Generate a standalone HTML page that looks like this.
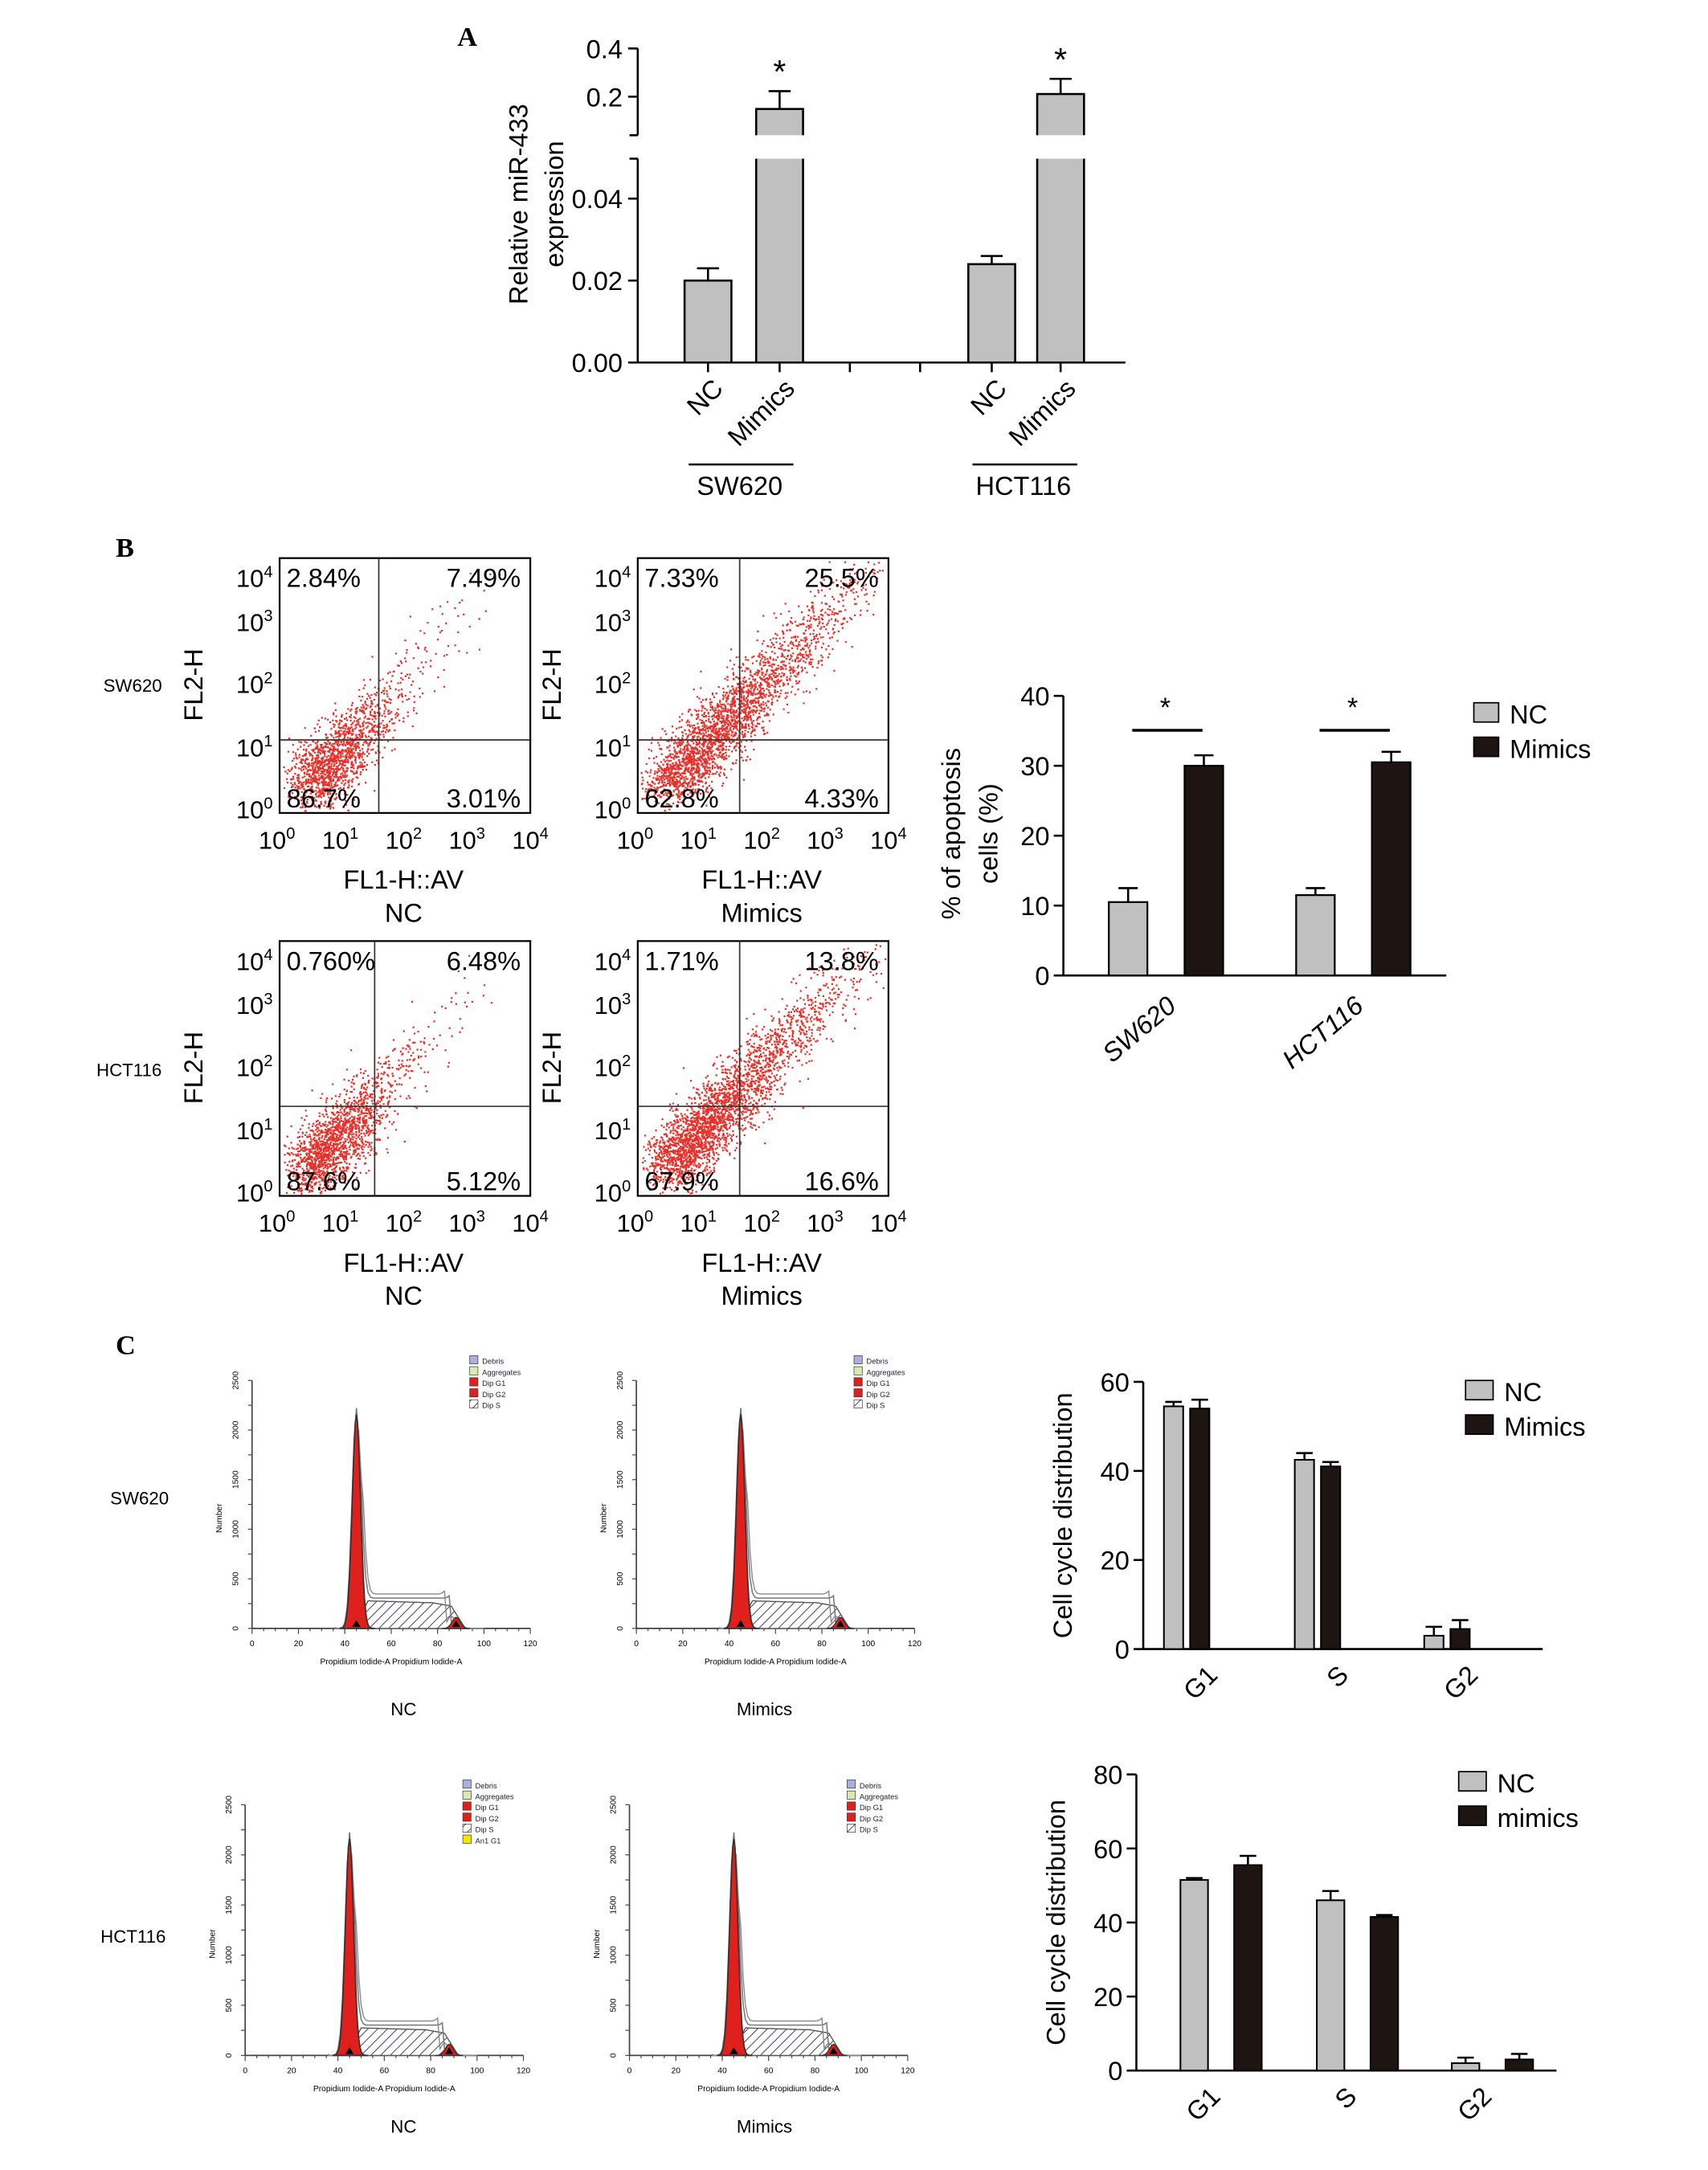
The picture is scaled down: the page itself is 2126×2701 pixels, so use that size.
<!DOCTYPE html>
<html><head><meta charset="utf-8"><style>
html,body{margin:0;padding:0;background:#fff}
svg{display:block;font-family:"Liberation Sans",Arial,sans-serif}
</style></head><body>
<svg id="fig" xmlns="http://www.w3.org/2000/svg" width="2126" height="2701" viewBox="0 0 1240 1575">
<defs>
<pattern id="hatch" width="5" height="5" patternUnits="userSpaceOnUse" patternTransform="rotate(45)"><rect width="5" height="5" fill="#fff"/><line x1="0" y1="0" x2="0" y2="5" stroke="#446" stroke-width="1.2"/></pattern>
</defs>
<g id="root"></g>
</svg>
<script>
// ---------- data ----------
const aGroups=["SW620","HCT116"];
const aCats=["NC","Mimics"];
const aVals=[[0.020,0.149],[0.024,0.211]];
const aErrs=[[0.023,0.223],[0.026,0.274]];
const aTicksLow=["0.00","0.02","0.04"];
const aTicksHigh=["0.2","0.4"];

const bQuad=[["2.84%","7.49%","86.7%","3.01%"],["7.33%","25.5%","62.8%","4.33%"],["0.760%","6.48%","87.6%","5.12%"],["1.71%","13.8%","67.9%","16.6%"]];
const bGroups=["SW620","HCT116"];
const bNC=[10.5,11.5];
const bNCerr=[12.5,12.5];
const bMim=[30,30.5];
const bMimerr=[31.5,32];
const bTicks=[0,10,20,30,40];

const cPhases=["G1","S","G2"];
const c1NC=[54.5,42.5,3];
const c1NCerr=[55.5,44,5];
const c1Mim=[54,41,4.5];
const c1Mimerr=[56,42,6.5];
const c1Ticks=[0,20,40,60];
const c2NC=[51.5,46,2];
const c2NCerr=[52,48.5,3.5];
const c2Mim=[55.5,41.5,3];
const c2Mimerr=[58,42,4.5];
const c2Ticks=[0,20,40,60,80];

// ---------- helpers ----------
const NS="http://www.w3.org/2000/svg";
const root=document.getElementById('root');
function el(tag,attrs,parent,text){const e=document.createElementNS(NS,tag);for(const k in attrs)e.setAttribute(k,attrs[k]);if(text!==undefined)e.textContent=text;(parent||root).appendChild(e);return e;}
function line(x1,y1,x2,y2,name,w){const e=el('line',{x1,y1,x2,y2,stroke:'#000','stroke-width':w||1.5});

return e;}
function txt(x,y,s,size,name,extra){const a={x,y,'font-size':size||16,fill:'#000'};Object.assign(a,extra||{});const e=el('text',a,root,s);

return e;}
function sup(x,y,base,exp,size,name,anchor){const e=el('text',{x,y,'font-size':size,'text-anchor':anchor||'middle'},root);


el('tspan',{},e,base);el('tspan',{dy:-size*0.4,'font-size':size*0.65},e,exp);return e;}

txt(332,33,"A",20,"panel-a-label",{'font-weight':'bold','font-family':'Liberation Serif'});
txt(84,404,"B",20,"panel-b-label",{'font-weight':'bold','font-family':'Liberation Serif'});
txt(84,983,"C",20,"panel-c-label",{'font-weight':'bold','font-family':'Liberation Serif'});

// ---------- Panel A ----------
(function(){
 const ax=463, y0=263;
 function yA(v){ if(v<=0.045) return 263-v*(119/0.04); return 70-(v-0.2)*175; }
 line(ax,y0,ax,115,'a-y-axis-lower');line(ax,98,ax,35,'a-y-axis-upper');
 line(ax,y0,817,y0,'a-x-axis');
 [0,0.02,0.04].forEach((v,i)=>{line(ax-7,yA(v),ax,yA(v),'a-y-tick');txt(ax-11,yA(v)+7,aTicksLow[i],19,'a-y-tick-label',{'text-anchor':'end'});});
 [0.2,0.4].forEach((v,i)=>{line(ax-7,yA(v),ax,yA(v),'a-y-tick');txt(ax-11,yA(v)+7,aTicksHigh[i],19,'a-y-tick-label',{'text-anchor':'end'});});
 line(ax-6,98,ax,98,'a-break');line(ax-6,115,ax,115,'a-break');
 txt(0,0,"Relative miR-433",19,'a-y-title',{'text-anchor':'middle',transform:'translate(383,148) rotate(-90)'});
 txt(0,0,"expression",19,'a-y-title-2',{'text-anchor':'middle',transform:'translate(409,148) rotate(-90)'});
 [514,566,617,668,720,770].forEach(x=>line(x,y0,x,y0+7,'a-x-tick'));
 const starts=[[497,549],[703,753]];
 aGroups.forEach((g,gi)=>{
  aCats.forEach((c,ci)=>{
   const x=starts[gi][ci],w=34,v=aVals[gi][ci],e=aErrs[gi][ci];
   const top=yA(v);
   let r=el('rect',{x,y:top,width:w,height:y0-top,fill:'#c0c0c0',stroke:'#000','stroke-width':1.5});
   
   
   if(v>0.045){el('rect',{x:x-2,y:98,width:w+4,height:17,fill:'#fff'});}
   const ey=yA(e);line(x+w/2,top,x+w/2,ey,'a-error-bar');line(x+w/2-8,ey,x+w/2+8,ey,'a-error-cap');
   if(ci==1) txt(x+w/2,ey-6,"*",24,'a-significance-star',{'text-anchor':'middle'});
   txt(0,0,c,19,'a-x-label',{'text-anchor':'end',transform:`translate(${x+w/2+12},${283}) rotate(-45)`});
  });
  const gx=starts[gi][0];line(gx+3,337,gx+79,337,'a-group-line');
  txt(gx+40,359,g,19,'a-group-label',{'text-anchor':'middle'});
 });
})();

// ---------- Panel B flow plots ----------
let seed=7;function rnd(){seed=(seed*16807)%2147483647;return seed/2147483647;}
function gauss(){return Math.sqrt(-2*Math.log(rnd()+1e-9))*Math.cos(2*Math.PI*rnd());}
const flow=[{x:203,y:405,qx:275,qy:537,spread:0.22,n:1500,cy:45},{x:463,y:405,qx:537,qy:537,spread:0.45,n:2600,cy:35},{x:203,y:683,qx:272,qy:803,spread:0.22,n:1700,cy:45},{x:463,y:683,qx:537,qy:803,spread:0.4,n:2800,cy:45}];
flow.forEach((p,i)=>{
 const w=182,h=185;
 const g=el('g',{});
 el('rect',{x:p.x,y:p.y,width:w,height:h,fill:'#fff',stroke:'#000','stroke-width':1.3},g);
 let d="";
 for(let k=0;k<p.n;k++){
  let t=Math.abs(gauss())*p.spread*(rnd()<0.25?2.0:1);
  let px=p.x+20+t*120+gauss()*11, py=p.y+h-18-t*(120+p.cy*0.3)+gauss()*11;
  if(px<p.x+2||px>p.x+w-2||py<p.y+2||py>p.y+h-2)continue;
  d+=`M${px.toFixed(1)} ${py.toFixed(1)}h1.3v1.3h-1.3z`;
 }
 el('path',{d,fill:'#e8302a'},g);
 el('line',{x1:p.qx,y1:p.y,x2:p.qx,y2:p.y+h,stroke:'#333','stroke-width':1},g);
 el('line',{x1:p.x,y1:p.qy,x2:p.x+w,y2:p.qy,stroke:'#333','stroke-width':1},g);
 const q=bQuad[i];
 txt(p.x+5,p.y+21,q[0],19,'quadrant-ul');
 txt(p.x+w-7,p.y+21,q[1],19,'quadrant-ur',{'text-anchor':'end'});
 txt(p.x+5,p.y+h-4,q[2],19,'quadrant-ll');
 txt(p.x+w-7,p.y+h-4,q[3],19,'quadrant-lr',{'text-anchor':'end'});
 const ys=[15,47,92,138,183];
 ['4','3','2','1','0'].forEach((e,j)=>sup(p.x-5,p.y+ys[j]+6,'10',e,18,'flow-y-tick','end'));
 [0,1,2,3,4].forEach(j=>sup(p.x-2+j*46,p.y+h+26,'10',String(j),18,'flow-x-tick'));
 txt(0,0,"FL2-H",19,'flow-y-title',{'text-anchor':'middle',transform:`translate(${p.x-56},${p.y+92}) rotate(-90)`});
 txt(p.x+90,p.y+h+55,"FL1-H::AV",19,'flow-x-title',{'text-anchor':'middle'});
 txt(p.x+90,p.y+h+79,i%2==0?"NC":"Mimics",19,'flow-condition-label',{'text-anchor':'middle'});
});
txt(75,502,"SW620",13,'row-label-sw620');
txt(70,781,"HCT116",13,'row-label-hct116');

// ---------- Panel B bar chart ----------
(function(){
 const ax=772,y0=708,yT=505,max=40;const y=v=>y0-v/max*(y0-yT);
 line(ax,y0,ax,yT,'b-y-axis');line(ax,y0,1050,y0,'b-x-axis');
 bTicks.forEach(v=>{line(ax-7,y(v),ax,y(v),'b-y-tick');txt(ax-10,y(v)+7,String(v),19,'b-y-tick-label',{'text-anchor':'end'});});
 txt(0,0,"% of apoptosis",19,'b-y-title',{'text-anchor':'middle',transform:'translate(697,605) rotate(-90)'});
 txt(0,0,"cells (%)",19,'b-y-title-2',{'text-anchor':'middle',transform:'translate(724,605) rotate(-90)'});
 const gx=[805,941];
 bGroups.forEach((g,i)=>{
  [[bNC,bNCerr,'#c0c0c0',0],[bMim,bMimerr,'#1e1512',55]].forEach(([vals,errs,col,off],j)=>{
   const x=gx[i]+off,w=28;
   let r=el('rect',{x,y:y(vals[i]),width:w,height:y0-y(vals[i]),fill:col,stroke:'#000','stroke-width':1.3});
   
   
   line(x+w/2,y(vals[i]),x+w/2,y(errs[i]),'b-error-bar');line(x+w/2-7,y(errs[i]),x+w/2+7,y(errs[i]),'b-error-cap');
  });
  line(gx[i]+17,530,gx[i]+68,530,'b-significance-line',2);
  txt(gx[i]+41,520,"*",20,'b-significance-star',{'text-anchor':'middle'});
  txt(0,0,g,19,'b-x-label',{'text-anchor':'end','font-style':'italic',transform:`translate(${gx[i]+50},${732}) rotate(-40)`});
 });
 [["NC",'#c0c0c0',518],["Mimics",'#1e1512',543]].forEach(([n,c,yy])=>{
  let r=el('rect',{x:1070,y:yy-8,width:18,height:14,fill:c,stroke:'#000'});
  txt(1096,yy+7,n,19,'b-legend-entry');
 });
})();

// ---------- Panel C histograms ----------
function hist(x0,yb,top,legendN,name){
 const g=el('g',{});
 const w=202,sx=w/120;
 const X=v=>x0+v*sx;
 const H=yb-top;
 el('line',{x1:x0,y1:yb,x2:x0+w,y2:yb,stroke:'#444','stroke-width':1},g);
 el('line',{x1:x0,y1:yb,x2:x0,y2:top-20,stroke:'#444','stroke-width':1},g);
 for(let v=0;v<=120;v+=5){el('line',{x1:X(v),y1:yb,x2:X(v),y2:yb+(v%20==0?4:2),stroke:'#444','stroke-width':.7},g);}
 for(let v=0;v<=120;v+=20){el('text',{x:X(v),y:yb+13,'font-size':6,'text-anchor':'middle'},g,String(v));}
 for(let k=0;k<=10;k++){const yy=yb-k*(H+20)/10;el('line',{x1:x0-3,y1:yy,x2:x0,y2:yy,stroke:'#444','stroke-width':.7},g);}
 ['0','500','1000','1500','2000','2500'].forEach((s,k)=>{const yy=yb-k*(H+20)/5;el('text',{'font-size':6,'text-anchor':'middle',transform:`translate(${x0-10},${yy}) rotate(-90)`},g,s);});
 el('text',{'font-size':6,'text-anchor':'middle',transform:`translate(${x0-22},${yb-H/2}) rotate(-90)`},g,"Number");
 el('text',{x:x0+w/2,y:yb+26,'font-size':6,'text-anchor':'middle'},g,"Propidium Iodide-A Propidium Iodide-A");
 let s=`M${X(44)} ${yb}`;for(let v=44;v<=92;v+=1){const hh=v<50?(v-44)*3.3:(v<78?20-(v-50)*0.05:(v<86?18.6-(v-78)*0.3:16-(v-86)*2.7));s+=` L${X(v).toFixed(1)} ${(yb-Math.max(hh,0)).toFixed(1)}`;}s+=' Z';
 el('path',{d:s,fill:'url(#hatch)',stroke:'#555','stroke-width':.8},g);
 // gray outline curves
 let o1=`M${X(36)} ${yb-1}`;for(let v=36;v<=100;v+=1){let hh=H*1.0*Math.exp(-Math.pow((v-45)/2.6,2))+(v>46&&v<86?22:0)+7*Math.exp(-Math.pow((v-88)/2.5,2));o1+=` L${X(v).toFixed(1)} ${(yb-hh).toFixed(1)}`;}
 el('path',{d:o1,fill:'none',stroke:'#777','stroke-width':.9},g);
 let o2=`M${X(36)} ${yb-1}`;for(let v=36;v<=100;v+=1){let hh=H*0.93*Math.exp(-Math.pow((v-45.5)/2.8,2))+(v>47&&v<84?25:0)+9*Math.exp(-Math.pow((v-86)/2.5,2));o2+=` L${X(v).toFixed(1)} ${(yb-hh).toFixed(1)}`;}
 el('path',{d:o2,fill:'none',stroke:'#888','stroke-width':.8},g);
 let d=`M${X(38)} ${yb}`;for(let v=38;v<=53;v+=0.5){d+=` L${X(v).toFixed(1)} ${(yb-H*0.97*Math.exp(-Math.pow((v-45)/2.5,2))).toFixed(1)}`;}d+=' Z';
 el('path',{d,fill:'#e0201c',stroke:'#333','stroke-width':1},g);
 let g2=`M${X(82)} ${yb}`;for(let v=82;v<=94;v+=0.5){g2+=` L${X(v).toFixed(1)} ${(yb-8*Math.exp(-Math.pow((v-88)/2.4,2))).toFixed(1)}`;}g2+=' Z';
 el('path',{d:g2,fill:'#e0201c',stroke:'#333','stroke-width':.8},g);
 el('polygon',{points:`${X(45)-3},${yb-1} ${X(45)+3},${yb-1} ${X(45)},${yb-6}`,fill:'#000'},g);
 el('polygon',{points:`${X(88)-3},${yb-1} ${X(88)+3},${yb-1} ${X(88)},${yb-6}`,fill:'#000'},g);
 const lx=x0+158,ly=top-38;const items=[['Debris','#aab0dd'],['Aggregates','#dde8b0'],['Dip G1','#e0201c'],['Dip G2','#e0201c'],['Dip S','url(#hatch)'],['An1 G1','#f3e600']].slice(0,legendN);
 items.forEach(([n,c],k)=>{el('rect',{x:lx,y:ly+k*8,width:6,height:6,fill:c,stroke:'#333','stroke-width':.4},g);el('text',{x:lx+9,y:ly+k*8+6,'font-size':5.5,fill:'#223'},g,n);});
}
hist(183,1182,1022,5,'c-hist-sw620-nc');
hist(462,1182,1022,5,'c-hist-sw620-mimics');
hist(178,1492,1330,6,'c-hist-hct116-nc');
hist(457,1492,1330,5,'c-hist-hct116-mimics');
txt(293,1245,"NC",13,'c-hist-label',{'text-anchor':'middle'});
txt(555,1245,"Mimics",13,'c-hist-label',{'text-anchor':'middle'});
txt(293,1548,"NC",13,'c-hist-label',{'text-anchor':'middle'});
txt(555,1548,"Mimics",13,'c-hist-label',{'text-anchor':'middle'});
txt(80,1092,"SW620",13,'row-label-sw620-c');
txt(73,1410,"HCT116",13,'row-label-hct116-c');

// ---------- Panel C bar charts ----------
function cbar(ax,y0,yT,max,ticks,nc,ncE,mim,mimE,gx,bw,gap,xEnd,legY,legNames,pref,lblOff){
 const y=v=>y0-v/max*(y0-yT);
 line(ax,y0,ax,yT,pref+'-y-axis');line(ax,y0,xEnd,y0,pref+'-x-axis');
 ticks.forEach(v=>{line(ax-7,y(v),ax,y(v),pref+'-y-tick');txt(ax-10,y(v)+7,String(v),19,pref+'-y-tick-label',{'text-anchor':'end'});});
 txt(0,0,"Cell cycle distribution",19,pref+'-y-title',{'text-anchor':'middle',transform:`translate(${ax-52},${(y0+yT)/2}) rotate(-90)`});
 cPhases.forEach((ph,i)=>{
  [[nc,ncE,'#c0c0c0',0],[mim,mimE,'#1e1512',gap]].forEach(([vals,errs,col,off],j)=>{
   const x=gx[i]+off;
   let r=el('rect',{x,y:y(vals[i]),width:bw,height:y0-y(vals[i]),fill:col,stroke:'#000','stroke-width':1.2});
   
   
   line(x+bw/2,y(vals[i]),x+bw/2,y(errs[i]),pref+'-error-bar');line(x+bw/2-6,y(errs[i]),x+bw/2+6,y(errs[i]),pref+'-error-cap');
  });
  txt(0,0,ph,19,pref+'-x-label',{'text-anchor':'end',transform:`translate(${gx[i]+lblOff},${y0+20}) rotate(-45)`});
 });
 [[legNames[0],'#c0c0c0',0],[legNames[1],'#1e1512',25]].forEach(([n,c,o])=>{
  let r=el('rect',{x:legY[0],y:legY[1]+o-8,width:20,height:14,fill:c,stroke:'#000'});
  txt(legY[0]+28,legY[1]+o+7,n,19,pref+'-legend-entry');
 });
}
cbar(830,1197,1003,60,c1Ticks,c1NC,c1NCerr,c1Mim,c1Mimerr,[845,940,1034],14,19,1120,[1064,1010],["NC","Mimics"],'c1',40);
cbar(825,1503,1288,80,c2Ticks,c2NC,c2NCerr,c2Mim,c2Mimerr,[857,956,1054],20,39,1130,[1059,1294],["NC","mimics"],'c2',30);
</script>
</body></html>
